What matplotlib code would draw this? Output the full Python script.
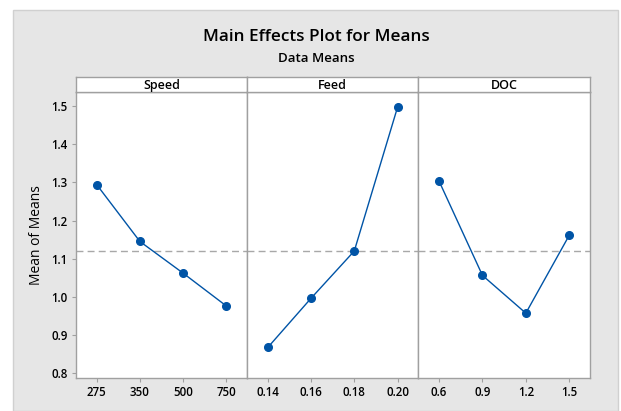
import matplotlib.pyplot as plt
from matplotlib.patches import Rectangle

plt.rcParams.update({"font.family": ["Open Sans", "DejaVu Sans"],
                     "font.weight": "semibold"})

factors = ["Speed", "Feed", "DOC"]
levels = [["275", "350", "500", "750"],
          ["0.14", "0.16", "0.18", "0.20"],
          ["0.6", "0.9", "1.2", "1.5"]]
speed_means = [1.294, 1.145, 1.062, 0.976]
feed_means = [0.867, 0.996, 1.120, 1.497]
doc_means = [1.303, 1.056, 0.957, 1.161]
all_means = [speed_means, feed_means, doc_means]
grand_mean = 1.120
yticks = [0.8, 0.9, 1.0, 1.1, 1.2, 1.3, 1.4, 1.5]

W, H = 621, 411
fig = plt.figure(figsize=(W / 100, H / 100), dpi=100)
fig.patch.set_facecolor("white")
bg = Rectangle((13 / W, 0), 605 / W, 401 / H, transform=fig.transFigure,
               facecolor="#e6e6e6", edgecolor="#d0d0d0", lw=1, zorder=-5)
fig.add_artist(bg)

fig.text(316 / W, 1 - 37 / H, "Main Effects Plot for Means", ha="center", va="center",
         fontsize=12.3, fontweight="semibold")
fig.text(316 / W, 1 - 59 / H, "Data Means", ha="center", va="center",
         fontsize=9.5, fontweight="semibold")

edges = [76, 247, 418.3, 590]
bottom, top = 378, 92
blue = "#0054a6"
spine_c = "#a0a0a0"
for i, (name, labs, vals) in enumerate(zip(factors, levels, all_means)):
    x0, x1 = edges[i], edges[i + 1]
    ax = fig.add_axes([x0 / W, 1 - bottom / H, (x1 - x0) / W, (bottom - top) / H])
    ax.set_facecolor("white")
    xs = list(range(1, len(vals) + 1))
    ax.axhline(grand_mean, color="#a8a8a8", lw=1, ls=(0, (5, 3)), zorder=1)
    ax.plot(xs, vals, color=blue, lw=1, marker="o", markersize=5.5, zorder=3)
    ax.set_xlim(0.52, 4.48)
    ax.set_ylim(0.787, 1.537)
    ax.set_xticks(xs)
    ax.set_xticklabels(labs, fontsize=8.3)
    ax.set_yticks(yticks)
    if i == 0:
        ax.set_yticklabels([f"{t:.1f}" for t in yticks], fontsize=8.3)
        ax.set_ylabel("Mean of Means", fontsize=10, fontweight="normal", labelpad=5)
    else:
        ax.tick_params(axis="y", left=False, labelleft=False)
    ax.tick_params(axis="both", length=3, color=spine_c, pad=3, labelcolor="black")
    for s in ax.spines.values():
        s.set_color(spine_c)
        s.set_linewidth(1)
    # strip header
    sax = fig.add_axes([x0 / W, 1 - top / H, (x1 - x0) / W, 15 / H])
    sax.set_facecolor("white")
    sax.set_xticks([])
    sax.set_yticks([])
    for s in sax.spines.values():
        s.set_color(spine_c)
        s.set_linewidth(1)
    sax.text(0.5, 0.45, name, ha="center", va="center", fontsize=9,
             fontweight="semibold", transform=sax.transAxes)

fig.savefig("out.png", dpi=100)
